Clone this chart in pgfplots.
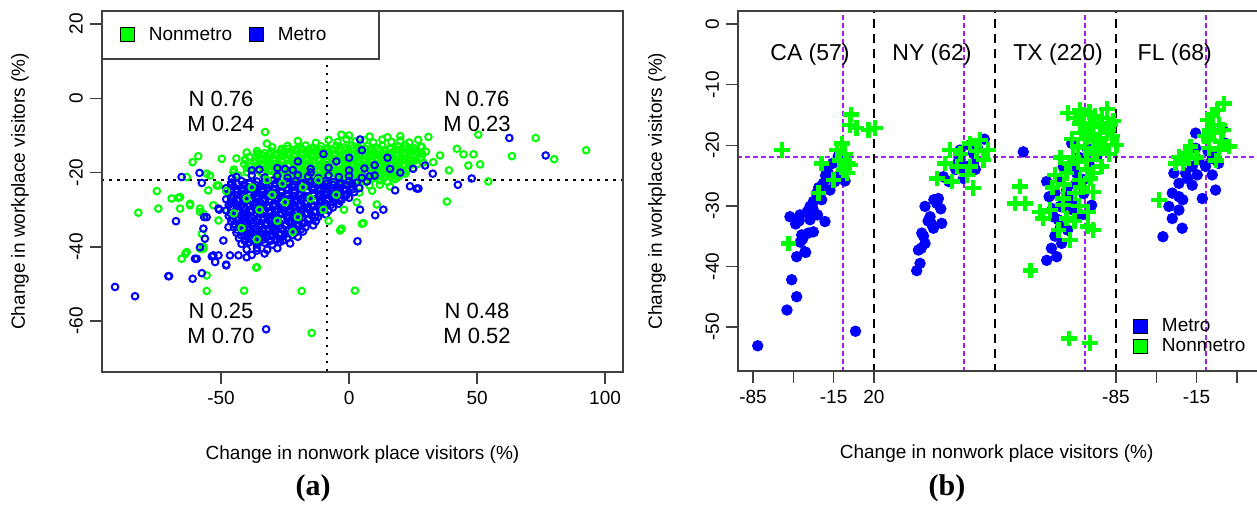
\documentclass[border=0pt]{standalone}
\usepackage{pgfplots}
\pgfplotsset{compat=1.18}
\usepackage{fontspec}
\setmainfont{Liberation Sans}
\newfontfamily\serifb{Liberation Serif}
\definecolor{rgreen}{RGB}{0,255,0}
\definecolor{rblue}{RGB}{0,0,255}
\definecolor{rpurple}{RGB}{160,32,240}
\definecolor{rgray}{RGB}{64,64,64}
\pgfplotsset{
  rstyle/.style={
    scale only axis, anchor=south west, axis on top,
    axis line style={line width=0.7pt, rgray},
    tick style={line width=0.7pt, rgray},
    tick align=outside, major tick length=6pt,
    xtick pos=bottom, ytick pos=left,
    tick label style={font=\fontsize{9.5}{11}\selectfont},
    label style={font=\fontsize{9.5}{11}\selectfont},
    yticklabel style={rotate=90, anchor=south},
    xticklabel style={anchor=north},
  },
  gleg/.style={legend image code/.code={\draw[fill=rgreen,draw=black,line width=0.5pt] (0pt,-3.5pt) rectangle (7pt,3.5pt); \path[draw=none] (0pt,0pt) -- (12pt,0pt);}},
  bleg/.style={legend image code/.code={\draw[fill=rblue,draw=black,line width=0.5pt] (0pt,-3.5pt) rectangle (7pt,3.5pt); \path[draw=none] (0pt,0pt) -- (12pt,0pt);}},
  ringg/.style={only marks, mark=o, rgreen, mark size=1.65pt, mark options={line width=1pt}, forget plot},
  ringb/.style={only marks, mark=o, rblue, mark size=1.65pt, mark options={line width=1pt}, forget plot},
}
\begin{document}
\begin{tikzpicture}
\path[use as bounding box] (0,0) rectangle (628.5pt,253pt);
% ---------------- panel (a)
\begin{axis}[rstyle, at={(51pt,67pt)}, width=260.5pt, height=180.5pt,
  xmin=-96.5, xmax=107, ymin=-73.7, ymax=23.5,
  xtick={-50,0,50,100}, xticklabels={-50,0,50,100},
  ytick={-60,-40,-20,0,20}, yticklabels={-60,-40,-20,0,20},
  xlabel={Change in nonwork place visitors (\%)},
  ylabel={Change in workplace visitors (\%)},
  xlabel style={at={(axis description cs:0.5,-0.23)}, anchor=center},
  ylabel style={at={(axis description cs:-0.1574,0.5)}, anchor=center},
  legend style={draw=none, fill=none, at={(axis description cs:0.0345,0.9335)}, anchor=west, inner sep=0pt, font=\fontsize{9.5}{11}\selectfont, /tikz/every even column/.append style={column sep=6.5pt}},
  legend columns=2,
]
\addlegendimage{gleg}\addlegendentry{Nonmetro}
\addlegendimage{bleg}\addlegendentry{Metro}
% green sparse
\addplot[ringg] coordinates {(-32.8,-9.1)(-32.1,-12.2)(-26.3,-13.6)(-58.9,-15.6)(-61.1,-17.2)(-49.7,-16.3)(-40.6,-16.5)(-35.4,-15.1)(-55.6,-20.3)(-45.2,-19.9)(-75.1,-25)(-66,-26.6)(-69.3,-27)(-74.5,-29.7)(-82.3,-30.8)(-62.1,-28.4)(-58.2,-29.7)(-66,-29.7)(-53,-28.8)(-55,-24.8)(-51,-23.5)(-63.4,-21.2)(-56.9,-31.1)(-57.5,-36.5)(-58.2,-40.5)(-63.4,-41.4)(-65.4,-43.2)(-55.6,-47.7)(-55.6,-51.9)(-41,-51.8)(-18.5,-51.9)(-14.6,-63.2)(-36.3,-45.6)(-56.9,-40.5)(31,-10.4)(35.5,-15.4)(42.1,-13.6)(44.7,-15.1)(48.6,-15.1)(50.5,-9.8)(46.6,-18.1)(51.2,-17.8)(63.6,-15.6)(72.9,-10.7)(80.1,-16.4)(92.6,-14)(54.4,-22.4)(39,-19.4)(38.2,-27.8)(-2.9,-35.1)(5.6,-33.6)(10.8,-28.6)(32.9,-17.2)(28.4,-13.1)(2.3,-51.8)(-3.5,-35.6)(5,-33.8)(-66.7,-26.8)(-62.1,-28.8)(-58.2,-30.6)(-56.9,-40)(-64,-41.9)(-36,-45.5)(-51,-32.9)(-47.8,-30.2)(-40.6,-16.7)(-43.2,-20.8)(-40,-19.9)(-54.3,-20.8)(-51.7,-23.5)(-45.2,-27.5)(-38,-27)(-36,-14.9)(0,-10)(-3,-9.8)(8,-10.3)(15,-10.5)(20,-10.2)(-20,-11.5)};
% green dense
\addplot[ringg] coordinates {
(-8,-11.2)(-4.5,-11.8)(-1,-11)(2.5,-11.6)(6,-11.3)(9.5,-11.9)(13,-11.1)(16.5,-11.7)(20,-11.4)(23.5,-11.9)(27,-11.2)(-13,-12)
(-30,-13.2)(-24,-12.8)(-20,-13.4)(-17,-12.7)(-14,-13.3)(-11,-12.9)(-8,-13.5)(-5,-12.8)(-2,-13.2)(1,-12.7)(4,-13.4)(7,-12.9)(10,-13.3)(13,-12.8)(16,-13.5)(19,-13)(22,-12.7)(25,-13.4)(28,-13)
(-40,-14.6)(-36,-14.2)(-33,-14.8)(-30.5,-14.3)(-28,-14.9)(-25.5,-14.4)(-23,-14.7)(-20.5,-14.2)(-18,-14.8)(-15.5,-14.5)(-13,-14.1)(-10.5,-14.7)(-8,-14.4)(-5.5,-14.9)(-3,-14.3)(-0.5,-14.6)(2,-14.1)(4.5,-14.8)(7,-14.4)(9.5,-14.7)(12,-14.2)(14.5,-14.9)(17,-14.5)(19.5,-14.1)(22,-14.6)(24.5,-14.3)(27,-14.8)(30,-14.4)
(-44,-16.2)(-39,-15.8)(-35,-16.3)(-32,-15.9)(-29.5,-16.4)(-27,-15.7)(-24.5,-16.1)(-22,-16.5)(-19.5,-15.8)(-17,-16.2)(-14.5,-15.9)(-12,-16.4)(-9.5,-15.7)(-7,-16.1)(-4.5,-16.5)(-2,-15.8)(0.5,-16.2)(3,-15.9)(5.5,-16.4)(8,-15.7)(10.5,-16.1)(13,-16.5)(15.5,-15.8)(18,-16.2)(20.5,-15.9)(23,-16.4)(25.5,-15.8)(28,-16.1)
(-41,-17.7)(-37,-17.3)(-34,-17.8)(-31,-17.4)(-28.5,-17.6)(-26,-17.2)(-23.5,-17.9)(-21,-17.5)(-18.5,-17.3)(-16,-17.8)(-13.5,-17.4)(-11,-17.7)(-8.5,-17.2)(-6,-17.6)(-3.5,-17.9)(-1,-17.3)(1.5,-17.7)(4,-17.4)(6.5,-17.8)(9,-17.2)(11.5,-17.6)(14,-17.5)(16.5,-17.9)(19,-17.3)(21.5,-17.7)(24,-17.4)(26.5,-17.8)(29,-17.3)
(-45,-19.2)(-40,-18.8)(-36,-19.3)(-33,-18.9)(-30,-19.4)(-27.5,-18.7)(-25,-19.1)(-22.5,-19.5)(-20,-18.8)(-17.5,-19.2)(-15,-18.9)(-12.5,-19.4)(-10,-18.7)(-7.5,-19.1)(-5,-19.5)(-2.5,-18.8)(0,-19.2)(2.5,-18.9)(5,-19.4)(7.5,-18.7)(10,-19.1)(12.5,-19.5)(15,-18.8)(17.5,-19.2)(20,-18.9)(22.5,-19.3)(25,-18.8)
(-38,-20.7)(-34,-20.3)(-31,-20.8)(-28,-20.4)(-25.5,-20.6)(-23,-20.2)(-20.5,-20.9)(-18,-20.5)(-15.5,-20.3)(-13,-20.8)(-10.5,-20.4)(-8,-20.7)(-5.5,-20.2)(-3,-20.6)(-0.5,-20.9)(2,-20.3)(4.5,-20.7)(7,-20.4)(9.5,-20.8)(12,-20.2)(14.5,-20.6)(17,-20.5)(19.5,-20.9)(22,-20.3)
(-28,-22.2)(-24,-21.8)(-21,-22.3)(-18,-21.9)(-15,-22.4)(-12,-21.7)(-9,-22.1)(-6,-22.5)(-3,-21.8)(0,-22.2)(3,-21.9)(6,-22.4)(9,-21.7)(12,-22.1)(15,-22.5)(18,-21.8)
(-20,-23.7)(-16,-23.3)(-12,-23.8)(-8,-23.4)(-4,-23.6)(0,-23.2)(4,-23.9)(8,-23.5)(12,-23.3)(16,-23.8)
(-8,-25.2)(-2,-24.8)(4,-25.4)(9,-24.9)
(-26.2,-13.9)(-23.8,-13.6)(-21.2,-13.8)(-18.7,-13.5)(-16.3,-13.9)(-13.7,-13.6)(-11.2,-13.8)(-8.8,-13.5)(-6.2,-13.9)(-3.7,-13.6)(-1.3,-13.8)(1.2,-13.5)(3.8,-13.9)(6.2,-13.6)(8.7,-13.8)(11.3,-13.5)(13.8,-13.9)(16.2,-13.6)(18.7,-13.8)(21.3,-13.5)(23.8,-13.9)(26.2,-13.6)
(-33.7,-15.4)(-31.2,-15.1)(-28.8,-15.3)(-26.3,-15.0)(-23.7,-15.4)(-21.2,-15.1)(-18.8,-15.3)(-16.3,-15.0)(-13.7,-15.4)(-11.2,-15.1)(-8.8,-15.3)(-6.3,-15.0)(-3.7,-15.4)(-1.2,-15.1)(1.3,-15.3)(3.8,-15.0)(6.2,-15.4)(8.7,-15.1)(11.3,-15.3)(13.8,-15.0)(16.2,-15.4)(18.7,-15.1)(21.3,-15.3)(23.8,-15.0)(26.2,-15.4)(28.7,-15.1)
(-36.2,-16.9)(-33.8,-16.6)(-31.3,-16.8)(-28.7,-16.5)(-26.2,-16.9)(-23.8,-16.6)(-21.3,-16.8)(-18.7,-16.5)(-16.2,-16.9)(-13.8,-16.6)(-11.3,-16.8)(-8.7,-16.5)(-6.2,-16.9)(-3.8,-16.6)(-1.3,-16.8)(1.3,-16.5)(3.8,-16.9)(6.2,-16.6)(8.8,-16.8)(11.3,-16.5)(13.7,-16.9)(16.2,-16.6)(18.8,-16.8)(21.3,-16.5)(23.7,-16.9)(26.3,-16.6)
(-38.7,-18.4)(-36.2,-18.1)(-33.8,-18.3)(-31.3,-18.0)(-28.7,-18.4)(-26.2,-18.1)(-23.8,-18.3)(-21.3,-18.0)(-18.7,-18.4)(-16.2,-18.1)(-13.8,-18.3)(-11.3,-18.0)(-8.7,-18.4)(-6.2,-18.1)(-3.8,-18.3)(-1.3,-18.0)(1.3,-18.4)(3.8,-18.1)(6.2,-18.3)(8.8,-18.0)(11.3,-18.4)(13.7,-18.1)(16.2,-18.3)(18.8,-18.0)(21.3,-18.4)(23.7,-18.1)
(-33.8,-19.9)(-31.3,-19.6)(-28.7,-19.8)(-26.2,-19.5)(-23.8,-19.9)(-21.3,-19.6)(-18.7,-19.8)(-16.2,-19.5)(-13.8,-19.9)(-11.3,-19.6)(-8.7,-19.8)(-6.2,-19.5)(-3.8,-19.9)(-1.3,-19.6)(1.3,-19.8)(3.8,-19.5)(6.2,-19.9)(8.8,-19.6)(11.3,-19.8)(13.7,-19.5)(16.2,-19.9)(18.8,-19.6)(21.3,-19.8)
(-26.2,-21.4)(-23.8,-21.1)(-21.3,-21.3)(-18.7,-21.0)(-16.2,-21.4)(-13.8,-21.1)(-11.3,-21.3)(-8.7,-21.0)(-6.2,-21.4)(-3.8,-21.1)(-1.3,-21.3)(1.3,-21.0)(3.8,-21.4)(6.2,-21.1)(8.8,-21.3)(11.3,-21.0)(13.7,-21.4)(16.2,-21.1)(18.8,-21.3)};
% blue sparse
\addplot[ringb] coordinates {(-91.4,-50.8)(-83.6,-53.3)(-70.3,-47.9)(-61.1,-48.6)(-57.5,-47.1)(-53,-42.3)(-51,-42.3)(-48,-44.8)(-46.5,-42.3)(-32.4,-62.2)(-59.5,-43.2)(-65.4,-21.2)(-58.4,-20.1)(-57.5,-22.8)(-67.6,-33.1)(-38,-19.4)(-50.7,-30)(-56.6,-32)(-56.3,-37.8)(-49.1,-38.3)(62.6,-10.7)(76.8,-15.4)(47.9,-21.6)(42.5,-23.3)(32.7,-20.3)(29.7,-18.1)(27.1,-24.3)(23.8,-23.7)(13.4,-30)(10.2,-31.5)(4.3,-30)(3.3,-38.5)(4.3,-11.1)(18,-24.8)(26.4,-24.3)(-55.6,-32)(-56.9,-35.1)(-58.2,-40.1)(-51,-29.7)(-53.6,-42.6)(-52.3,-44.1)(-60.2,-43.2)(-48,-45)(-70.6,-47.9)(-45.8,-21.6)(-43.2,-42.3)(-40,-42.8)(-36,-41)(-47.1,-34.7)
(-10,-15)(-5,-17)(5,-14)(10,-18)(15,-16)(20,-20)(-20,-17)(25,-19)(0,-16)(-15,-20)(8,-21)(16,-19)(-25,-19)};
% blue dense
\addplot[ringb] coordinates {
(-35,-19.2)(-28,-18.8)(-22,-19.3)(-15,-19)(-8,-18.7)(0,-19.4)(6,-18.9)
(-44,-21.2)(-38,-20.8)(-33,-21.3)(-28,-20.9)(-24,-21.4)(-20,-20.7)(-16,-21.1)(-12,-21.5)(-8,-20.8)(-4,-21.2)(0,-20.9)(5,-21.4)(10,-20.8)
(-46,-22.7)(-42,-22.3)(-39,-22.8)(-36,-22.4)(-33,-22.6)(-30,-22.2)(-27,-22.9)(-24,-22.5)(-21,-22.3)(-18,-22.8)(-15,-22.4)(-12,-22.7)(-9,-22.2)(-6,-22.6)(-3,-22.9)(0,-22.3)(3,-22.7)(7,-22.4)
(-48,-24.2)(-45,-23.8)(-42,-24.3)(-39.5,-23.9)(-37,-24.4)(-34.5,-23.7)(-32,-24.1)(-29.5,-24.5)(-27,-23.8)(-24.5,-24.2)(-22,-23.9)(-19.5,-24.4)(-17,-23.7)(-14.5,-24.1)(-12,-24.5)(-9.5,-23.8)(-7,-24.2)(-4.5,-23.9)(-2,-24.4)(1,-23.8)(4,-24.2)
(-47,-25.7)(-44,-25.3)(-41.5,-25.8)(-39,-25.4)(-36.5,-25.6)(-34,-25.2)(-31.5,-25.9)(-29,-25.5)(-26.5,-25.3)(-24,-25.8)(-21.5,-25.4)(-19,-25.7)(-16.5,-25.2)(-14,-25.6)(-11.5,-25.9)(-9,-25.3)(-6.5,-25.7)(-4,-25.4)(-1,-25.8)(2,-25.3)
(-48,-27.2)(-45.5,-26.8)(-43,-27.3)(-40.5,-26.9)(-38,-27.4)(-35.5,-26.7)(-33,-27.1)(-30.5,-27.5)(-28,-26.8)(-25.5,-27.2)(-23,-26.9)(-20.5,-27.4)(-18,-26.7)(-15.5,-27.1)(-13,-27.5)(-10.5,-26.8)(-8,-27.2)(-5.5,-26.9)(-3,-27.4)(0,-26.8)
(-47,-28.7)(-44.5,-28.3)(-42,-28.8)(-39.5,-28.4)(-37,-28.6)(-34.5,-28.2)(-32,-28.9)(-29.5,-28.5)(-27,-28.3)(-24.5,-28.8)(-22,-28.4)(-19.5,-28.7)(-17,-28.2)(-14.5,-28.6)(-12,-28.9)(-9.5,-28.3)(-7,-28.7)(-4,-28.4)
(-48,-30.2)(-45.5,-29.8)(-43,-30.3)(-40.5,-29.9)(-38,-30.4)(-35.5,-29.7)(-33,-30.1)(-30.5,-30.5)(-28,-29.8)(-25.5,-30.2)(-23,-29.9)(-20.5,-30.4)(-18,-29.7)(-15.5,-30.1)(-13,-30.5)(-10.5,-29.8)(-8,-30.2)
(-47,-31.7)(-44.5,-31.3)(-42,-31.8)(-39.5,-31.4)(-37,-31.6)(-34.5,-31.2)(-32,-31.9)(-29.5,-31.5)(-27,-31.3)(-24.5,-31.8)(-22,-31.4)(-19.5,-31.7)(-17,-31.2)(-14.5,-31.6)(-12,-31.9)(-9,-31.3)
(-46,-33.2)(-43.5,-32.8)(-41,-33.3)(-38.5,-32.9)(-36,-33.4)(-33.5,-32.7)(-31,-33.1)(-28.5,-33.5)(-26,-32.8)(-23.5,-33.2)(-21,-32.9)(-18.5,-33.4)(-16,-32.7)(-13,-33.1)
(-45,-34.7)(-42.5,-34.3)(-40,-34.8)(-37.5,-34.4)(-35,-34.6)(-32.5,-34.2)(-30,-34.9)(-27.5,-34.5)(-25,-34.3)(-22.5,-34.8)(-20,-34.4)(-17,-34.7)(-14,-34.2)
(-44,-36.2)(-41.5,-35.8)(-39,-36.3)(-36.5,-35.9)(-34,-36.4)(-31.5,-35.7)(-29,-36.1)(-26.5,-36.5)(-24,-35.8)(-21,-36.2)(-18,-35.9)
(-43,-37.7)(-40,-37.3)(-37.5,-37.8)(-35,-37.4)(-32.5,-37.6)(-30,-37.2)(-27,-37.9)(-24,-37.5)(-20,-37.3)
(-42,-39.2)(-39,-38.8)(-36,-39.3)(-33,-38.9)(-30,-39.4)(-27,-38.7)(-23,-39.1)
(-40,-40.7)(-36,-40.3)(-32,-40.8)(-28,-40.4)
(-38,-42.2)(-33,-41.8)
(-46.2,-23.4)(-43.7,-23.1)(-41.3,-23.3)(-38.8,-23.0)(-36.2,-23.4)(-33.7,-23.1)(-31.3,-23.3)(-28.8,-23.0)(-26.2,-23.4)(-23.7,-23.1)(-21.3,-23.3)(-18.8,-23.0)(-16.2,-23.4)(-13.7,-23.1)(-11.3,-23.3)(-8.8,-23.0)(-6.2,-23.4)(-3.7,-23.1)(-1.3,-23.3)(1.2,-23.0)
(-46.3,-24.9)(-43.7,-24.6)(-41.2,-24.8)(-38.8,-24.5)(-36.3,-24.9)(-33.7,-24.6)(-31.2,-24.8)(-28.8,-24.5)(-26.3,-24.9)(-23.7,-24.6)(-21.2,-24.8)(-18.8,-24.5)(-16.3,-24.9)(-13.7,-24.6)(-11.2,-24.8)(-8.8,-24.5)(-6.3,-24.9)(-3.7,-24.6)(-1.2,-24.8)(1.3,-24.5)
(-46.3,-26.4)(-43.7,-26.1)(-41.2,-26.3)(-38.8,-26.0)(-36.3,-26.4)(-33.7,-26.1)(-31.2,-26.3)(-28.8,-26.0)(-26.3,-26.4)(-23.7,-26.1)(-21.2,-26.3)(-18.8,-26.0)(-16.3,-26.4)(-13.7,-26.1)(-11.2,-26.3)(-8.8,-26.0)(-6.3,-26.4)(-3.7,-26.1)(-1.2,-26.3)
(-46.3,-27.9)(-43.7,-27.6)(-41.2,-27.8)(-38.8,-27.5)(-36.3,-27.9)(-33.7,-27.6)(-31.2,-27.8)(-28.8,-27.5)(-26.3,-27.9)(-23.7,-27.6)(-21.2,-27.8)(-18.8,-27.5)(-16.3,-27.9)(-13.7,-27.6)(-11.2,-27.8)(-8.8,-27.5)(-6.3,-27.9)(-3.7,-27.6)
(-46.3,-29.4)(-43.7,-29.1)(-41.2,-29.3)(-38.8,-29.0)(-36.3,-29.4)(-33.7,-29.1)(-31.2,-29.3)(-28.8,-29.0)(-26.3,-29.4)(-23.7,-29.1)(-21.2,-29.3)(-18.8,-29.0)(-16.3,-29.4)(-13.7,-29.1)(-11.2,-29.3)(-8.8,-29.0)(-6.3,-29.4)
(-46.3,-30.9)(-43.7,-30.6)(-41.2,-30.8)(-38.8,-30.5)(-36.3,-30.9)(-33.7,-30.6)(-31.2,-30.8)(-28.8,-30.5)(-26.3,-30.9)(-23.7,-30.6)(-21.2,-30.8)(-18.8,-30.5)(-16.3,-30.9)(-13.7,-30.6)(-11.2,-30.8)
(-45.7,-32.4)(-43.3,-32.1)(-40.7,-32.3)(-38.2,-32.0)(-35.8,-32.4)(-33.3,-32.1)(-30.7,-32.3)(-28.2,-32.0)(-25.8,-32.4)(-23.3,-32.1)(-20.7,-32.3)(-18.2,-32.0)(-15.8,-32.4)(-13.3,-32.1)
(-44.7,-33.9)(-42.2,-33.6)(-39.8,-33.8)(-37.3,-33.5)(-34.7,-33.9)(-32.2,-33.6)(-29.8,-33.8)(-27.3,-33.5)(-24.7,-33.9)(-22.2,-33.6)(-19.8,-33.8)(-17.3,-33.5)
(-43.7,-35.4)(-41.2,-35.1)(-38.8,-35.3)(-36.3,-35.0)(-33.7,-35.4)(-31.2,-35.1)(-28.8,-35.3)(-26.3,-35.0)(-23.7,-35.4)(-21.2,-35.1)(-18.8,-35.3)
(-42.2,-36.9)(-39.8,-36.6)(-37.3,-36.8)(-34.7,-36.5)(-32.2,-36.9)(-29.8,-36.6)(-27.3,-36.8)(-24.7,-36.5)(-22.2,-36.9)
(-40.7,-38.4)(-38.2,-38.1)(-35.8,-38.3)(-33.3,-38.0)(-30.7,-38.4)(-28.2,-38.1)(-25.8,-38.3)};
% green on top
\addplot[ringg] coordinates {(-40,-27)(-35,-30)(-30,-26)(-25,-28)(-45,-31)(-20,-32)(-15,-27)(-38,-24)(-28,-33)(-10,-30)(-5,-26)(-32,-22)(-18,-24)(-42,-35)(-8,-33)(-22,-36)(3,-28)(-48,-25)(-36,-38)(-12,-22)(-2,-30)(-26,-23)};
\draw[black, line width=1.3pt, dash pattern=on 1.3pt off 2.7pt] (axis cs:-8.6,-80) -- (axis cs:-8.6,30);
\draw[black, line width=1.3pt, dash pattern=on 1.3pt off 2.7pt] (axis cs:-100,-22) -- (axis cs:110,-22);
\draw[fill=white, draw=rgray, line width=0.7pt] (axis description cs:0,1) rectangle (axis description cs:0.5317,0.867);
\node[font=\fontsize{11}{12.5}\selectfont, align=center] at (axis cs:-50,-3.5) {N 0.76\\M 0.24};
\node[font=\fontsize{11}{12.5}\selectfont, align=center] at (axis cs:50,-3.5) {N 0.76\\M 0.23};
\node[font=\fontsize{11}{12.5}\selectfont, align=center] at (axis cs:-50,-60.6) {N 0.25\\M 0.70};
\node[font=\fontsize{11}{12.5}\selectfont, align=center] at (axis cs:50,-60.6) {N 0.48\\M 0.52};
\end{axis}
% ---------------- panel (b)
\begin{axis}[rstyle, at={(369pt,67.5pt)}, width=262pt, height=180pt,
  xmin=-98, xmax=356.8, ymin=-57.26, ymax=2.15,
  xtick={-85,-50,-15,20,230,265,300,335}, xticklabels={-85,{},-15,20,-85,{},-15,{}},
  ytick={-50,-40,-30,-20,-10,0}, yticklabels={-50,-40,-30,-20,-10,0},
  xlabel={Change in nonwork place visitors (\%)},
  ylabel={Change in workplace visitors (\%)},
  xlabel style={at={(axis description cs:0.4937,-0.2306)}, anchor=center},
  ylabel style={at={(axis description cs:-0.1546,0.5)}, anchor=center},
  legend style={draw=none, fill=none, at={(axis cs:244.9,-51.5)}, anchor=west, inner sep=0pt, font=\fontsize{9.5}{11}\selectfont, row sep=-2pt},
  legend cell align=left,
]
\addlegendimage{bleg}\addlegendentry{Metro}
\addlegendimage{gleg}\addlegendentry{Nonmetro}
\draw[rpurple, line width=0.9pt, dash pattern=on 2.5pt off 1.5pt] (axis cs:-120,-22) -- (axis cs:400,-22);
\foreach \v in {-7,98,203,308}{
  \edef\temp{\noexpand\draw[rpurple, line width=0.9pt, dash pattern=on 2.5pt off 1.5pt] (axis cs:\v,-60) -- (axis cs:\v,5);}\temp
}
\foreach \v in {20,125,230}{
  \edef\temp{\noexpand\draw[black, line width=1.35pt, dash pattern=on 4.5pt off 3pt] (axis cs:\v,-60) -- (axis cs:\v,5);}\temp
}
% metro
\addplot[only marks, mark=*, rblue, mark size=2.65pt, mark options={draw=none}, forget plot] coordinates {
(-11,-21.8)(-5.1,-25.9)(-21,-24.1)(-24,-26.3)(-18.2,-27.4)(-26.8,-27.9)(-32.6,-29.3)(-35.5,-30.1)(-25.4,-29)(-52.9,-31.8)(-44.2,-31.5)(-35.5,-32.3)(-22.5,-32.6)(-32.6,-34.3)(-42.7,-34.8)(-39.9,-37.6)(-47.1,-38.4)(-51.4,-42.2)(-39.3,-37.7)(-47.1,-45)(-55.5,-47.2)(-80.9,-53.1)(4,-50.7)(-48,-33)(-45,-32.5)(-38,-31)(-33,-30.5)(-30,-28)(-28,-27)(-22,-25)(-20,-24.5)(-16,-23)(-37,-34.5)(-42,-35.5)(-44,-36)(-29,-31.5)(-14,-26)(-10,-25)
(115.7,-19)(106.3,-21.3)(94.7,-20.8)(93.2,-22.7)(106.3,-23)(99,-24.1)(97.6,-25.5)(80.2,-25.2)(75.9,-28.8)(74.5,-29.6)(64.3,-30.1)(68.7,-31.8)(78.8,-32.9)(71.6,-33.7)(61.5,-34.5)(64.3,-36.2)(58.6,-37.3)(60,-39.5)(57.1,-40.7)(94.7,-22.4)(70,-33)(67,-32.5)(63,-35)(61,-37)(78,-30.5)(72,-29)(85,-26)(91,-24)(101,-23.5)(110,-20.5)(108,-24)(103,-20)
(149.6,-21.1)(191.6,-19.7)(184.3,-23.5)(169.9,-26)(177.1,-27.9)(187.2,-27.4)(195.9,-24.6)(201.7,-25.7)(207.5,-23.5)(213.3,-21.9)(193,-29.6)(181.5,-30.1)(180,-32.3)(193,-30.7)(208.9,-29.9)(182.9,-36.2)(178.6,-38.4)(169.9,-39)(175.6,-31.8)(198,-22)(205,-20.5)(190,-28.5)(185,-30)(175,-30.5)(172,-28.5)(195,-26.5)(202,-28)(182,-33.5)(177,-35)(188,-34)(174,-37)(200,-31.5)(214,-19.5)(192,-23)(180,-25.5)
(322.3,-17.2)(299.2,-18)(325.2,-19.7)(299.2,-20.5)(316.5,-21.3)(313.6,-22.2)(302,-22.4)(296.2,-23.5)(307.8,-23.5)(290.4,-24.6)(280.3,-24.6)(300.6,-24.9)(313.6,-24.9)(284.7,-26.3)(296.2,-26.6)(278.9,-27.9)(284.7,-28.5)(305,-28.8)(316.5,-27.4)(276,-30.1)(284.7,-30.7)(278.9,-32.1)(287.5,-33.7)(270.8,-35.1)(292,-25.5)(288,-29)(310,-21)(319,-23)};
% nonmetro
\addplot[only marks, mark=+, rgreen, mark size=3.9pt, mark options={line width=2.2pt}, forget plot] coordinates {
(0,-14.9)(-0.8,-16.7)(5,-17.2)(15.2,-17.5)(21,-17.2)(-60,-20.8)(-7.8,-19.7)(-12.2,-20.8)(-25.4,-23)(-3.5,-23)(-6.4,-24.1)(-15.1,-25.7)(-28.1,-27.9)(-54.3,-36.2)(-0.8,-23.3)(-3.5,-24.6)(-10,-22.5)(-5,-21.5)
(86,-20.8)(103.3,-19.7)(112,-19.1)(119.2,-20.8)(114.9,-22.4)(81.6,-23)(74.5,-25.5)(87.5,-26)(103.3,-23.5)(106.2,-27.1)(91.9,-23.5)(100.5,-24.9)(95,-21.5)(109,-21)
(188.6,-14.7)(198.8,-16.4)(207.5,-16.9)(216.2,-16.4)(224.8,-16.7)(204.6,-18.6)(213.3,-19.1)(222,-18)(230.6,-20)(197.3,-20.2)(210.3,-20.8)(219,-20.5)(193,-21.9)(204.6,-22.4)(217.6,-23.5)(187.2,-24.6)(177.1,-24.9)(198.8,-25.7)(210.3,-24.6)(194.4,-27.9)(184.3,-28.8)(210.3,-27.7)(146.7,-26.8)(142.4,-29.6)(151.1,-29.6)(164,-31)(172.7,-30.7)(184.3,-29.9)(166.8,-32.1)(187.2,-32.1)(206,-33.4)(210.3,-34)(190,-35.6)(156,-40.7)(189.5,-51.9)(207.5,-52.6)
(195,-15.5)(202,-15)(207,-14.5)(212,-15.2)(218,-15.5)(223,-17.5)(227,-18.5)(200,-18)(209,-18.3)(216,-18.8)(220,-20)(203,-20.5)(213,-21.5)(197,-22.8)(192,-19)(190,-23)(224,-21.5)(208,-25.5)(201,-27)(182,-22)(198,-30)(206,-31)(180,-34)(175,-27)(217,-17)(228,-16)(205,-24)(185,-26.5)(194,-32.5)(222,-14)(210,-16.8)(199,-14.2)
(323.9,-13.1)(318.1,-14.2)(313.8,-15)(309.4,-15.8)(319.6,-16.7)(312.4,-17.5)(310.9,-19.1)(321,-19.4)(328.3,-20.2)(319.6,-20.8)(294.8,-20.2)(290.4,-21.3)(284.7,-21.9)(281.8,-23)(310.9,-20.5)(267.3,-29)(293.3,-21.9)(315,-18)(323,-17.5)(307,-18.5)(317,-22.5)(300,-22)(288,-23)};
\node[font=\fontsize{11.5}{13}\selectfont] at (axis cs:-35.5,-5.1) {CA (57)};
\node[font=\fontsize{11.5}{13}\selectfont] at (axis cs:70.4,-5.1) {NY (62)};
\node[font=\fontsize{11.5}{13}\selectfont] at (axis cs:179.8,-5.1) {TX (220)};
\node[font=\fontsize{11.5}{13}\selectfont] at (axis cs:281.1,-5.1) {FL (68)};
\end{axis}
\node[font=\serifb\bfseries\fontsize{15}{18}\selectfont] at (156.5pt,9pt) {(a)};
\node[font=\serifb\bfseries\fontsize{15}{18}\selectfont] at (473.5pt,9pt) {(b)};
\end{tikzpicture}
\end{document}
